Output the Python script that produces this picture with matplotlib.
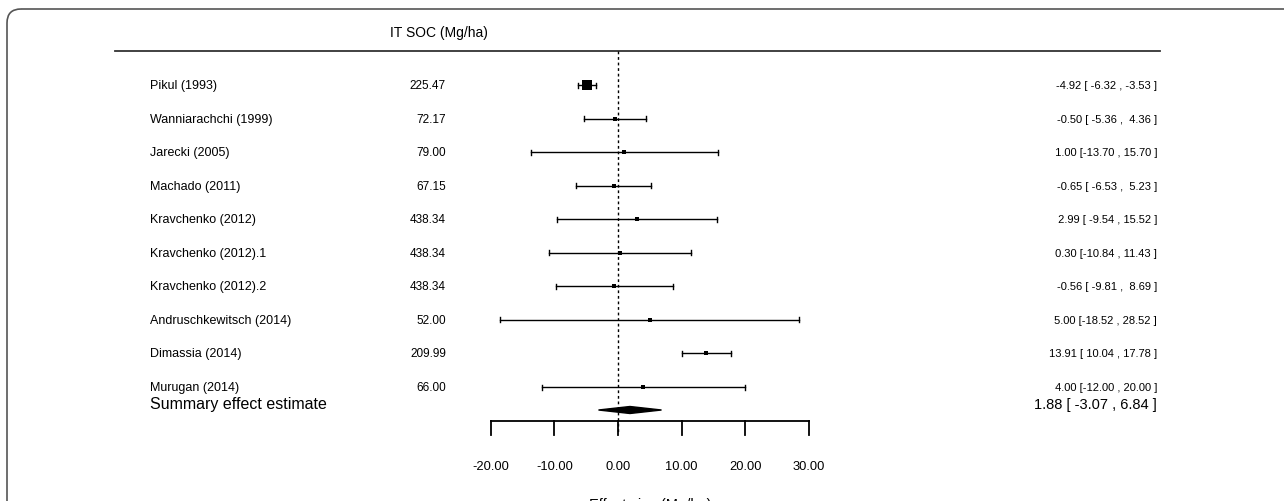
import numpy as np
import matplotlib
matplotlib.use('Agg')
import matplotlib.pyplot as plt
from matplotlib.patches import FancyBboxPatch, Polygon

plt.rcParams['font.family'] = ['Liberation Sans', 'DejaVu Sans']

studies = ['Pikul (1993)', 'Wanniarachchi (1999)', 'Jarecki (2005)', 'Machado (2011)',
           'Kravchenko (2012)', 'Kravchenko (2012).1', 'Kravchenko (2012).2',
           'Andruschkewitsch (2014)', 'Dimassia (2014)', 'Murugan (2014)']
it_soc = [225.47, 72.17, 79.00, 67.15, 438.34, 438.34, 438.34, 52.00, 209.99, 66.00]
est = [-4.92, -0.50, 1.00, -0.65, 2.99, 0.30, -0.56, 5.00, 13.91, 4.00]
lower = [-6.32, -5.36, -13.70, -6.53, -9.54, -10.84, -9.81, -18.52, 10.04, -12.00]
upper = [-3.53, 4.36, 15.70, 5.23, 15.52, 11.43, 8.69, 28.52, 17.78, 20.00]
summary = (1.88, -3.07, 6.84)
ticks = [-20, -10, 0, 10, 20, 30]

W, H = 1284, 502
fig = plt.figure(figsize=(W / 100, H / 100), dpi=100)
ax = fig.add_axes([0, 0, 1, 1])
# x in effect units, y in pixel rows
x0_px, scale = 618.0, 6.36
ax.set_xlim(-x0_px / scale, (W - x0_px) / scale)
ax.set_ylim(H, 0)
ax.axis('off')

def px(x):
    return (x - x0_px) / scale

# rounded frame, runs off the bottom and right edge
frame = FancyBboxPatch((7, 10), 1400, 600, boxstyle='round,pad=0,rounding_size=14',
                       fill=False, edgecolor='#555555', lw=1.2)
frame.set_transform(matplotlib.transforms.Affine2D().scale(1, -1).translate(0, H))
fig.patches.append(frame)

ax.text(px(390), 33, 'IT SOC (Mg/ha)', fontsize=10, va='center', ha='left')
ax.plot([px(115), px(1160)], [52, 52], color='#333333', lw=1.3)

n = len(studies)
ys = 86 + np.arange(n) * (388 - 86) / (n - 1)

est_a, lo_a, up_a = np.array(est), np.array(lower), np.array(upper)
wi = 1 / (up_a - lo_a)
sizes = 2.2 + 4.3 * (wi - wi.min()) / (wi.max() - wi.min())

for i in range(n):
    y = ys[i]
    ax.text(px(150), y, studies[i], fontsize=9, va='center', ha='left')
    ax.text(px(446), y, f'{it_soc[i]:.2f}', fontsize=8.5, va='center', ha='right')
    ax.text(px(1157), y, f'{est[i]:5.2f} [{lower[i]:6.2f} , {upper[i]:5.2f} ]',
            fontsize=8, va='center', ha='right')
    ax.plot([lower[i], upper[i]], [y, y], color='black', lw=1)
    for b in (lower[i], upper[i]):
        ax.plot([b, b], [y - 2.5, y + 2.5], color='black', lw=1)
    ax.plot(est[i], y, marker='s', color='black', ms=sizes[i], mew=0)

ys_sum = 405
ax.text(px(150), ys_sum, 'Summary effect estimate', fontsize=11.5, va='center', ha='left')
ax.text(px(1157), ys_sum, f'{summary[0]:.2f} [{summary[1]:6.2f} , {summary[2]:.2f} ]',
        fontsize=10.5, va='center', ha='right')
yd = 411
diamond = Polygon([[summary[1], yd], [summary[0], yd - 3.5], [summary[2], yd],
                   [summary[0], yd + 3.5]], closed=True, color='black')
ax.add_patch(diamond)

# reference line
ax.plot([0, 0], [52, 434], color='black', lw=1, ls=(0, (2, 2)))

# x axis
ax.plot([ticks[0], ticks[-1]], [422, 422], color='black', lw=1.3)
for t in ticks:
    ax.plot([t, t], [422, 436], color='black', lw=1.3)
    ax.text(t, 467, f'{t:.2f}', fontsize=9.3, va='center', ha='center')
ax.text(5, 505, 'Effect size (Mg/ha)', fontsize=10.5, va='center', ha='center')

fig.savefig('out.png', dpi=100)
